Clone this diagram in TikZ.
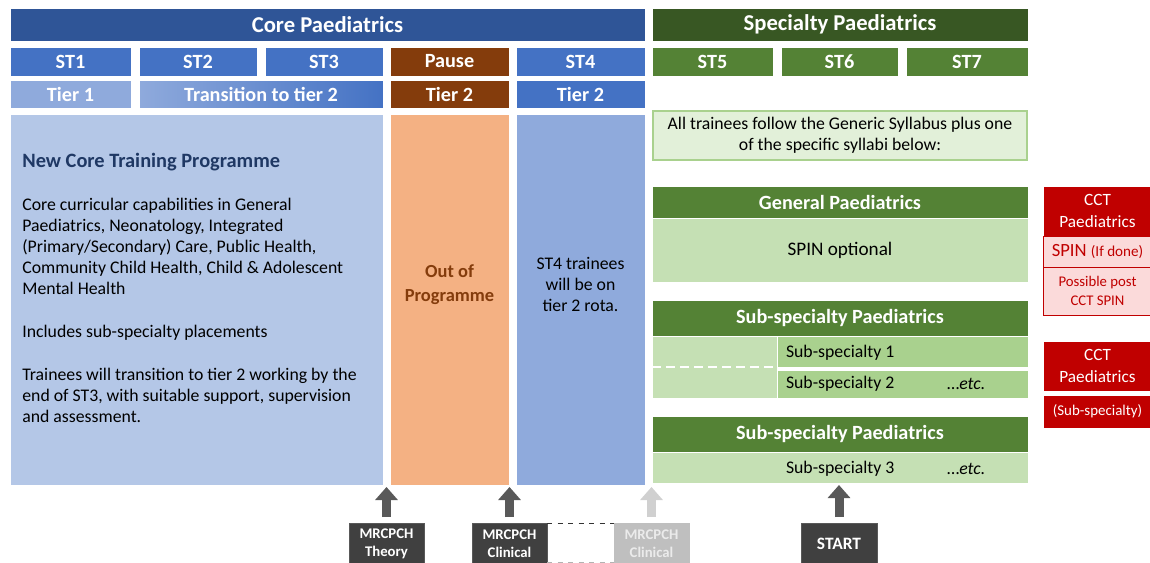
\documentclass[tikz,border=0pt]{standalone}
\usepackage{fontspec}
\setmainfont{Carlito}
\usetikzlibrary{arrows.meta}
\definecolor{coreblue}{HTML}{2F5597}
\definecolor{stblue}{HTML}{4472C4}
\definecolor{lightblue}{HTML}{8FAADC}
\definecolor{paleblue}{HTML}{B4C7E7}
\definecolor{navy}{HTML}{1F3864}
\definecolor{brown}{HTML}{843C0C}
\definecolor{orange}{HTML}{F4B183}
\definecolor{darkgreen}{HTML}{385723}
\definecolor{stgreen}{HTML}{548235}
\definecolor{lgreen}{HTML}{C5E0B4}
\definecolor{mgreen}{HTML}{A9D18E}
\definecolor{pgreen}{HTML}{E2F0D9}
\definecolor{cctred}{HTML}{C00000}
\definecolor{pink}{HTML}{FBDADA}
\definecolor{boxgrey}{HTML}{404040}
\definecolor{arrgrey}{HTML}{595959}
\definecolor{ltgrey}{HTML}{BFBFBF}
\definecolor{ltarr}{HTML}{D0D0D0}
\newcommand{\pbox}[7]{\node[#2, minimum width={(#5-#3)*0.02cm}, minimum height={(#6-#4)*0.02cm}] (#1) at ({(#3+#5)/2},{(#4+#6)/2}) {#7};}

\begin{document}
\begin{tikzpicture}[x=0.02cm, y=-0.02cm,
    box/.style={inner sep=0pt, outer sep=0pt, draw=white, line width=0.4pt, text=white, align=center, font=\bfseries\fontsize{11.5}{13}\selectfont},
    plain/.style={box, text=black, font=\fontsize{10.1}{11.9}\selectfont},
    small/.style={box, font=\bfseries\fontsize{8.4}{10.2}\selectfont},
    cct/.style={box, fill=cctred, font=\fontsize{9.8}{12}\selectfont},
    arr/.style={line width=0.18cm, draw=arrgrey, -{Triangle[width=0.44cm,length=0.26cm]}, shorten <=0.12cm, shorten >=0.04cm}]
\useasboundingbox[fill=white] (0,0) rectangle (1150,562);

\pbox{core}{box, fill=coreblue, font=\bfseries\fontsize{12.9}{14}\selectfont}{10}{8}{645}{41}{Core Paediatrics}
\pbox{spec}{box, fill=darkgreen, font=\bfseries\fontsize{12.9}{14}\selectfont}{652}{8}{1028}{41}{Specialty Paediatrics}

\pbox{st1}{box, fill=stblue}{10}{47}{131}{76}{ST1}
\pbox{st2}{box, fill=stblue}{139}{47}{257}{76}{ST2}
\pbox{st3}{box, fill=stblue}{265}{47}{383}{76}{ST3}
\pbox{pause}{box, fill=brown}{390}{47}{509}{76}{Pause}
\pbox{st4}{box, fill=stblue}{516}{47}{645}{76}{ST4}
\pbox{st5}{box, fill=stgreen}{652}{47}{773}{76}{ST5}
\pbox{st6}{box, fill=stgreen}{781}{47}{898}{76}{ST6}
\pbox{st7}{box, fill=stgreen}{906}{47}{1028}{76}{ST7}

\pbox{tier1}{box, fill=lightblue}{10}{80}{131}{108}{Tier 1}
\pbox{trans}{box, left color=lightblue, right color=stblue}{139}{80}{383}{108}{Transition to tier 2}
\pbox{tierb}{box, fill=brown}{390}{80}{509}{108}{Tier 2}
\pbox{tierc}{box, fill=stblue}{516}{80}{645}{108}{Tier 2}

\pbox{corepanel}{box, fill=paleblue}{10}{114}{383}{485}{}
\pbox{oop}{box, fill=orange}{390}{114}{509}{485}{}
\pbox{st4panel}{box, fill=lightblue}{516}{114}{645}{485}{}
\node[plain, draw=none, text=brown, font=\bfseries\fontsize{10.5}{13.5}\selectfont] (ooptext) at ([yshift=0.29cm]oop.center) {Out of\\Programme};
\node[plain, draw=none] (st4text) at ([yshift=0.3cm]st4panel.center) {ST4 trainees\\will be on\\tier 2 rota.};

\node[anchor=base west, inner sep=0pt, text=navy, font=\bfseries\fontsize{11.6}{13}\selectfont] (corehead) at (22,167) {New Core Training Programme};
\node[anchor=base west, inner sep=0pt, align=left, font=\fontsize{10.1}{11.9}\selectfont] (corecap) at (22,294) {Core curricular capabilities in General\\Paediatrics, Neonatology, Integrated\\(Primary/Secondary) Care, Public Health,\\Community Child Health, Child \& Adolescent\\Mental Health};
\node[anchor=base west, inner sep=0pt, align=left, font=\fontsize{10.1}{11.9}\selectfont] (coresub) at (22,337) {Includes sub-specialty placements};
\node[anchor=base west, inner sep=0pt, align=left, font=\fontsize{10.1}{11.9}\selectfont] (coretrans) at (22,422) {Trainees will transition to tier 2 working by the\\end of ST3, with suitable support, supervision\\and assessment.};

\pbox{note}{plain, fill=pgreen, draw=mgreen, line width=1pt}{653}{111}{1027}{160}{All trainees follow the Generic Syllabus plus one\\of the specific syllabi below:}

\pbox{genhead}{box, fill=stgreen}{652}{186}{1028}{218}{General Paediatrics}
\pbox{genbody}{plain, fill=lgreen, font=\fontsize{10.9}{12}\selectfont}{652}{218}{1028}{282}{SPIN optional}

\pbox{subhead}{box, fill=stgreen}{652}{300}{1028}{336}{Sub-specialty Paediatrics}
\pbox{subleft}{plain, fill=lgreen}{652}{336}{777}{398}{}
\pbox{subone}{plain, fill=mgreen}{777}{336}{1028}{367}{}
\pbox{subtwo}{plain, fill=mgreen}{777}{370}{1028}{398}{}
\node[plain, draw=none, anchor=west] (subonet) at (786,353) {Sub-specialty 1};
\node[plain, draw=none, anchor=west] (subtwot) at (786,384) {Sub-specialty 2};
\node[plain, draw=none, anchor=west] (etcone) at (947,384) {\dots\textit{etc.}};
\draw[white, line width=1.3pt, dash pattern=on 5pt off 3pt] (subleft.west) -- ([xshift=-0.04cm]subleft.east);

\pbox{subhead2}{box, fill=stgreen}{652}{416}{1028}{452}{Sub-specialty Paediatrics}
\pbox{subthree}{plain, fill=lgreen}{652}{452}{1028}{483}{}
\node[plain, draw=none, anchor=west] (subthreet) at (786,469) {Sub-specialty 3};
\node[plain, draw=none, anchor=west] (etctwo) at (947,469) {\dots\textit{etc.}};

\pbox{cctgen}{cct}{1043}{186}{1152}{236}{CCT\\Paediatrics}
\pbox{spin}{cct, fill=pink, draw=cctred, text=cctred, font=\fontsize{10.6}{12}\selectfont}{1043}{236}{1152}{267}{SPIN {\fontsize{8.6}{10}\selectfont(If done)}}
\pbox{postspin}{cct, fill=pink, draw=cctred, text=cctred, font=\fontsize{8.4}{10.5}\selectfont}{1043}{267}{1152}{315}{Possible post\\CCT SPIN}
\pbox{cctsub}{cct}{1043}{341}{1152}{391}{CCT\\Paediatrics}
\pbox{cctsubtwo}{cct, font=\fontsize{8.5}{10}\selectfont}{1043}{395}{1152}{428}{(Sub-specialty)}

\pbox{theory}{small, fill=boxgrey, draw=arrgrey}{349}{523}{424}{564}{MRCPCH\\Theory}
\pbox{clin}{small, fill=boxgrey, draw=arrgrey}{472}{523}{547}{564}{MRCPCH\\Clinical}
\pbox{clinlate}{small, fill=ltgrey, draw=ltgrey, text=white!92!black}{614}{523}{689}{564}{MRCPCH\\Clinical}
\pbox{start}{box, fill=boxgrey, draw=arrgrey, font=\bfseries\fontsize{9.9}{11}\selectfont}{801}{523}{877}{564}{START}
\draw[dashed, thin, black!80] (clin.north east) -- (clinlate.north west);
\draw[dashed, thin, black!30] ([yshift=0.04cm]clin.south east) -- ([yshift=0.04cm]clinlate.south west);

\draw[arr] (theory.north) -- (theory.north |- corepanel.south);
\draw[arr] (clin.north) -- (clin.north |- oop.south);
\draw[arr, draw=ltarr] (clinlate.north) -- (clinlate.north |- st4panel.south);
\draw[arr] (start.north) -- (start.north |- subthree.south);
\end{tikzpicture}
\end{document}
